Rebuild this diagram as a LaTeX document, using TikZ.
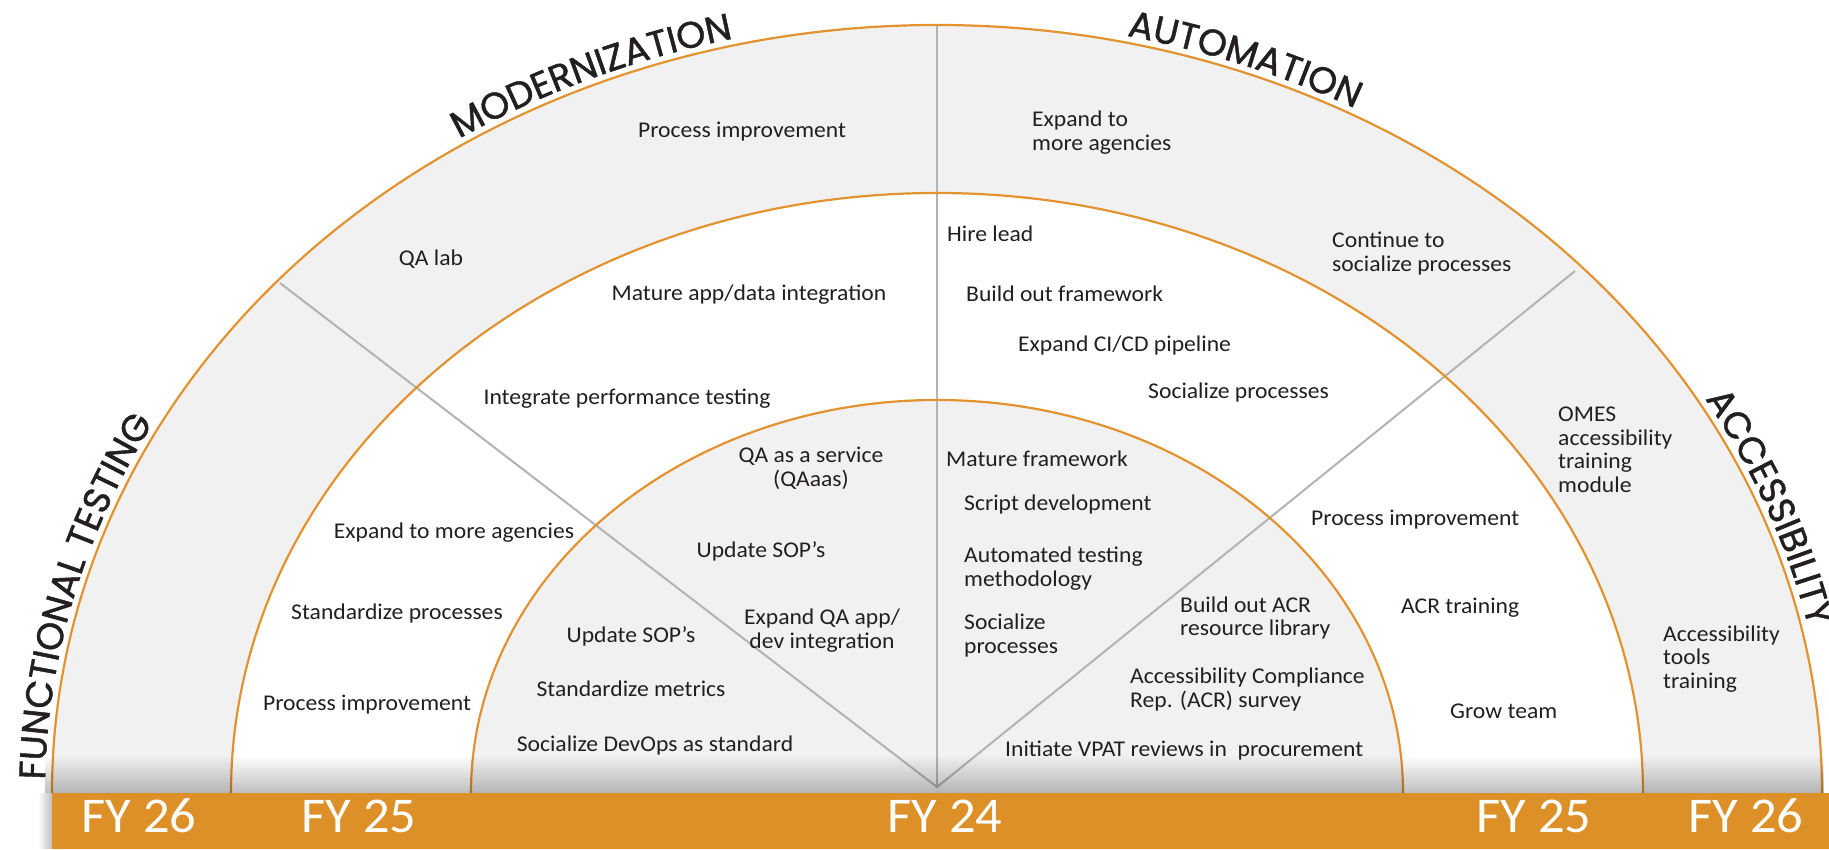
\documentclass[tikz,border=0pt]{standalone}
\usepackage{fontspec}
\setmainfont{Carlito}[FakeStretch=1.05]
\newfontfamily\headfont{Poppins}[FakeBold=1.2]
\usetikzlibrary{decorations.text,fadings}
\definecolor{barorange}{HTML}{DE9028}
\definecolor{arcorange}{HTML}{E39230}
\definecolor{ringgray}{HTML}{F1F1F1}
\definecolor{spoke}{HTML}{B3B3B3}
\definecolor{ink}{HTML}{231F20}
\begin{document}
\begin{tikzpicture}[x=1pt,y=1pt,
  item/.style={font=\fontsize{22.5}{23.5}\selectfont, text=ink, inner sep=0pt, align=left, anchor=west},
  citem/.style={item, anchor=center, align=center},
  fy/.style={font=\fontsize{50}{50}\selectfont, text=white, inner sep=0pt, anchor=center},
  ring/.style={draw=arcorange, line width=2.2pt},
  spokeline/.style={draw=spoke, line width=2pt},
  heading/.style={decorate, decoration={text along path, text align=center, text color=ink, text={|\headfont\fontsize{37}{37}\selectfont|#1}}}
]
\useasboundingbox (0,0) rectangle (1829,849);
\fill[white] (0,0) rectangle (1829,849);
\coordinate (C) at (937,56);
\coordinate (V) at (937,62);
% rings
\fill[ringgray] (C) ++(-885,0) arc[start angle=180,end angle=0,x radius=885,y radius=768] -- cycle;
\fill[white] (C) ++(-706,0) arc[start angle=180,end angle=0,x radius=706,y radius=600] -- cycle;
\fill[ringgray] (C) ++(-466,0) arc[start angle=180,end angle=0,x radius=466,y radius=393] -- cycle;
% spokes
\coordinate (UL) at (280,566);
\coordinate (UR) at (1575,578);
\coordinate (UT) at (937,824);
\draw[spokeline] (UL) -- (V) -- (UR);
\draw[spokeline] (V) -- (UT);
% arcs
\draw[ring] (C) ++(-885,0) arc[start angle=180,end angle=0,x radius=885,y radius=768];
\draw[ring] (C) ++(-706,0) arc[start angle=180,end angle=0,x radius=706,y radius=600];
\draw[ring] (C) ++(-466,0) arc[start angle=180,end angle=0,x radius=466,y radius=393];
% shadow and bar
\fill[black,opacity=0.25,path fading=north] (47,56) rectangle (1829,94);
\fill[black,opacity=0.25,path fading=west] (38,0) rectangle (52,56);
\fill[barorange] (52,0) rectangle (1829,56);
\node[fy] (fyA) at (139,33) {FY 26};
\node[fy] (fyB) at (359,33) {FY 25};
\node[fy] (fyC) at (945,33) {FY 24};
\node[fy] (fyD) at (1534,33) {FY 25};
\node[fy] (fyE) at (1746,33) {FY 26};
% headings
\path[heading={FUNCTIONAL TESTING}] (C) ++(190.5:892 and 775) arc[start angle=190.5,end angle=140.5,x radius=892,y radius=775];
\path[heading={MODERNIZATION}] (C) ++(138.2:892 and 775) arc[start angle=138.2,end angle=88.2,x radius=892,y radius=775];
\path[heading={AUTOMATION}] (C) ++(94.5:892 and 775) arc[start angle=94.5,end angle=44.5,x radius=892,y radius=775];
\path[heading={ACCESSIBILITY}] (C) ++(46:892 and 775) arc[start angle=46,end angle=-4,x radius=892,y radius=775];
% modernization
\node[citem] (m1) at (742,717) {Process improvement};
\node[citem] (m2) at (431,590) {QA lab};
\node[citem] (m3) at (749,554) {Mature app/data integration};
\node[citem] (m4) at (627,450) {Integrate performance testing};
\node[citem] (m5) at (811,380.5) {QA as a service\\(QAaas)};
\node[citem] (m6) at (761,298) {Update SOP’s};
\node[citem] (m7) at (822,218.5) {Expand QA app/\\dev integration};
% functional testing
\node[citem] (f1) at (631,213) {Update SOP’s};
\node[citem] (f2) at (631,160) {Standardize metrics};
\node[citem] (f3) at (655,103) {Socialize DevOps as standard};
\node[citem] (f4) at (454,316) {Expand to more agencies};
\node[citem] (f5) at (397,235) {Standardize processes};
\node[citem] (f6) at (367,144) {Process improvement};
% automation
\node[item] (a1) at (1032,716.5) {Expand to\\more agencies};
\node[item] (a2) at (1332,595.5) {Continue to\\socialize processes};
\node[item] (a3) at (947,615) {Hire lead};
\node[item] (a4) at (966,555) {Build out framework};
\node[item] (a5) at (1018,503) {Expand CI/CD pipeline};
\node[item] (a6) at (1148,456) {Socialize processes};
\node[item] (a7) at (946,390) {Mature framework};
\node[item] (a8) at (964,344) {Script development};
\node[item] (a9) at (964,280.5) {Automated testing\\methodology};
\node[item] (a10) at (964,213.5) {Socialize\\processes};
% accessibility
\node[item] (c1) at (1180,231) {Build out ACR\\resource library};
\node[item] (c2) at (1130,159.5) {Accessibility Compliance\\Rep. (ACR) survey};
\node[item] (c3) at (1005,98) {Initiate VPAT reviews in\ \ procurement};
\node[item] (c4) at (1311,329) {Process improvement};
\node[item] (c5) at (1401,241) {ACR training};
\node[item] (c6) at (1450,138) {Grow team};
\node[item] (c7) at (1558,399) {OMES\\accessibility\\training\\module};
\node[item] (c8) at (1663,190) {Accessibility\\tools\\training};
\end{tikzpicture}
\end{document}
